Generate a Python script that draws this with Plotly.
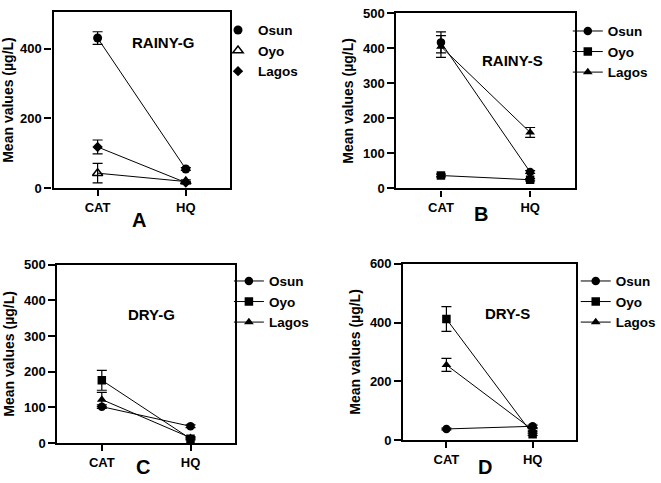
import plotly.graph_objects as go

W, H = 661, 483
categories = ["CAT", "HQ"]
series_names = ["Osun", "Oyo", "Lagos"]

# Panel A: RAINY-G
a_osun = [430, 55]; a_osun_err = [18, 4]
a_oyo = [43, 19]; a_oyo_err = [28, 5]
a_lagos = [118, 16]; a_lagos_err = [20, 3]

# Panel B: RAINY-S
b_osun = [417, 47]; b_osun_err = [30, 4]
b_oyo = [37, 25]; b_oyo_err = [4, 3]
b_lagos = [405, 160]; b_lagos_err = [31, 14]

# Panel C: DRY-G
c_osun = [102, 47]; c_osun_err = [5, 4]
c_oyo = [176, 12]; c_oyo_err = [28, 3]
c_lagos = [122, 15]; c_lagos_err = [20, 3]

# Panel D: DRY-S
d_osun = [38, 47]; d_osun_err = [3, 4]
d_oyo = [412, 20]; d_oyo_err = [42, 4]
d_lagos = [256, 35]; d_lagos_err = [22, 4]

panel_titles = ["RAINY-G", "RAINY-S", "DRY-G", "DRY-S"]
panel_letters = ["A", "B", "C", "D"]
y_ranges = [[0, 505], [0, 500], [0, 500], [0, 600]]
y_dticks = [200, 100, 100, 200]
y_title = "Mean values (µg/L)"

FONT = "Liberation Sans, Arial, sans-serif"

def px_x(p):
    return p / W

def px_y(p):
    return 1 - p / H

# plot-area boxes in pixels (left, right, top, bottom)
boxes = [(54, 232, 5, 187), (400, 580, 6.5, 187.3), (58, 237, 266, 450), (407, 581, 265, 447)]

fig = go.Figure()

panels = [
    [(a_osun, a_osun_err), (a_oyo, a_oyo_err), (a_lagos, a_lagos_err)],
    [(b_osun, b_osun_err), (b_oyo, b_oyo_err), (b_lagos, b_lagos_err)],
    [(c_osun, c_osun_err), (c_oyo, c_oyo_err), (c_lagos, c_lagos_err)],
    [(d_osun, d_osun_err), (d_oyo, d_oyo_err), (d_lagos, d_lagos_err)],
]
symbols_a = ["circle", "triangle-up-open", "diamond"]
sizes_a = [9, 9, 8]
symbols_bcd = ["circle", "square", "triangle-up"]

for i, data in enumerate(panels):
    xa = "x" if i == 0 else f"x{i+1}"
    ya = "y" if i == 0 else f"y{i+1}"
    leg = "legend" if i == 0 else f"legend{i+1}"
    for j, (vals, errs) in enumerate(data):
        err = dict(type="data", array=errs, visible=True, color="black", thickness=1.2, width=5)
        if i == 0:
            fig.add_trace(go.Scatter(
                x=categories, y=vals, mode="lines", xaxis=xa, yaxis=ya,
                line=dict(color="black", width=1), showlegend=False, hoverinfo="skip"))
            fig.add_trace(go.Scatter(
                x=categories, y=vals, mode="markers", xaxis=xa, yaxis=ya,
                name=series_names[j], legend=leg, error_y=err,
                marker=dict(symbol=symbols_a[j], size=sizes_a[j], color="black",
                            line=dict(color="black", width=1.5 if j == 1 else 0))))
        else:
            fig.add_trace(go.Scatter(
                x=categories, y=vals, mode="lines+markers", xaxis=xa, yaxis=ya,
                name=series_names[j], legend=leg, error_y=err,
                line=dict(color="black", width=1),
                marker=dict(symbol=symbols_bcd[j], size=8.5, color="black")))

layout = dict(
    width=W, height=H,
    margin=dict(l=0, r=0, t=0, b=0),
    paper_bgcolor="white", plot_bgcolor="white",
    font=dict(family=FONT, color="black", size=13),
)

title_pos = [(165, 37), (517, 55), (153, 317), (512, 316)]
letter_pos = [(140, 220), (485, 214), (144, 475), (489, 475)]
legend_pos = [(220, 8), (573, 9), (231, 267), (581, 267)]

annotations = []
for i, (l, r, t, b) in enumerate(boxes):
    sx = "" if i == 0 else str(i + 1)
    layout[f"xaxis{sx}"] = dict(
        domain=[px_x(l), px_x(r)], anchor=f"y{sx}",
        type="category", categoryorder="array", categoryarray=categories,
        range=[-0.5, 1.5], showline=True, linewidth=2.2, linecolor="black",
        mirror=True, ticks="outside", ticklen=6, tickwidth=2, tickcolor="black",
        showgrid=False, zeroline=False,
        tickfont=dict(family=FONT, size=13, color="black", weight="bold"),
    )
    layout[f"yaxis{sx}"] = dict(
        domain=[px_y(b), px_y(t)], anchor=f"x{sx}",
        range=y_ranges[i], dtick=y_dticks[i], tick0=0,
        showline=True, linewidth=2.2, linecolor="black",
        mirror=True, ticks="outside", ticklen=7, tickwidth=2, tickcolor="black",
        showgrid=False, zeroline=False,
        tickfont=dict(family=FONT, size=13, color="black", weight="bold"),
        title=dict(text=y_title, standoff=6,
                   font=dict(family=FONT, size=14, color="black", weight="bold")),
    )
    lg = "legend" if i == 0 else f"legend{i+1}"
    lx, ly = legend_pos[i]
    layout[lg] = dict(
        x=px_x(lx), y=px_y(ly), xanchor="left", yanchor="top",
        bgcolor="rgba(0,0,0,0)", borderwidth=0, tracegroupgap=0,
        font=dict(family=FONT, size=13.5, color="black", weight="bold"),
    )
    tx, ty = title_pos[i]
    annotations.append(dict(
        text=panel_titles[i], x=px_x(tx), y=px_y(ty), xref="paper", yref="paper",
        showarrow=False, xanchor="center", yanchor="middle",
        font=dict(family=FONT, size=15, color="black", weight="bold")))
    ax_, ay_ = letter_pos[i]
    annotations.append(dict(
        text=panel_letters[i], x=px_x(ax_), y=px_y(ay_), xref="paper", yref="paper",
        showarrow=False, xanchor="center", yanchor="middle",
        font=dict(family=FONT, size=20, color="black", weight="bold")))

layout["annotations"] = annotations
fig.update_layout(**layout)
fig.write_html("out.html")
